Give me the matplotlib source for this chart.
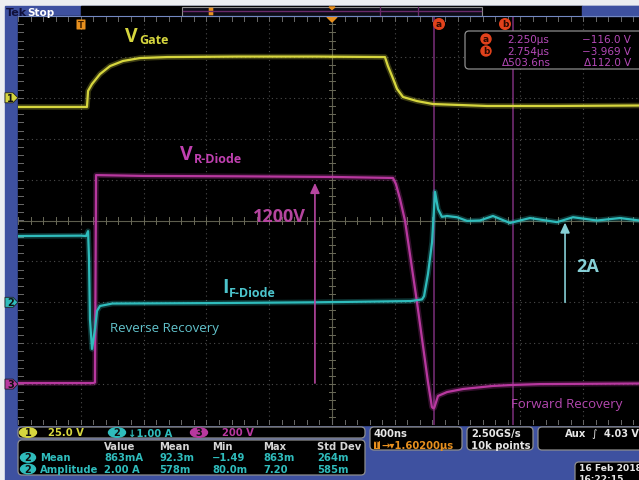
"""
Diode switching capture: gate drive, diode voltage and diode current
drawn as an oscilloscope screen.
"""
import numpy as np
import matplotlib.pyplot as plt
from matplotlib.patches import Rectangle, FancyBboxPatch, Polygon, Circle, Ellipse

W, H = 639, 481

# horizontal / vertical settings
T_DIV = 0.4                      # us per division
CH1_SCALE, CH1_POS = 25.0, 3.0   # V/div, ground position (div)
CH2_SCALE, CH2_POS = 1.0, -2.0   # A/div
CH3_SCALE, CH3_POS = 200.0, -4.0  # V/div

# ch1: gate voltage (us, V)
gate_t = [-0.40, 0.038, 0.045, 0.070, 0.121, 0.185, 0.267, 0.376, 0.548, 1.00, 1.50,
          1.936, 1.955, 1.981, 2.013, 2.051, 2.140, 2.242, 2.586, 3.006, 3.555]
gate_v = [-5.6, -5.6, 4.2, 8.4, 14.5, 19.4, 22.5, 24.3, 24.9, 25.2, 25.2,
          24.9, 19.4, 13.3, 5.4, 0.5, -2.0, -3.8, -5.0, -5.0, -4.7]

# ch2: diode forward current (us, A)
diode_i_t = [-0.40, 0.0, 0.032, 0.045, 0.051, 0.057, 0.070, 0.076, 0.089, 0.102, 0.121, 0.20,
             0.80, 1.50, 2.10, 2.172, 2.185, 2.210, 2.236, 2.255, 2.274, 2.299, 2.331, 2.395,
             2.459, 2.541, 2.624, 2.732, 2.860, 3.032, 3.134, 3.287, 3.433, 3.555]
diode_i = [1.62, 1.63, 1.62, 1.74, 1.06, -0.41, -1.14, -1.00, -0.65, -0.21, -0.09, -0.03,
           -0.02, 0.00, 0.03, 0.07, 0.15, 0.69, 1.47, 2.70, 2.28, 2.09, 2.11, 2.08,
           1.99, 2.00, 2.11, 1.94, 2.06, 1.96, 2.08, 2.00, 2.06, 2.00]

# ch3: diode reverse voltage (us, V)
diode_v_t = [-0.40, 0.076, 0.089, 0.096, 0.40, 1.00, 1.60, 1.987, 2.006, 2.032, 2.064, 2.140,
             2.210, 2.235, 2.243, 2.250, 2.274, 2.331, 2.433, 2.624, 2.754, 2.923, 3.555]
diode_v = [5, 5, 8, 1022, 1018, 1016, 1013, 1008, 978, 905, 798, 401,
           10, -112, -118, -116, -58, -39, -24, -9, -4, 0, 3]

cursor_a, cursor_b = 2.250, 2.754
arrow_v_t, arrow_i_t = 1.490, 3.083

# measurement table
meas_cols = ["Value", "Mean", "Min", "Max", "Std Dev"]
meas_rows = ["Mean", "Amplitude"]
meas_vals = [["863mA", "92.3m", "\u22121.49", "863m", "264m"],
             ["2.00 A", "578m", "80.0m", "7.20", "585m"]]

YELLOW = "#d6d63e"
CYAN = "#2fbcbc"
MAGENTA = "#b8389f"
CURSOR = "#7a2e7a"
ORANGE = "#e8901e"
BLUE = "#3e51a0"
UI = "DejaVu Sans"
LABEL = "Open Sans"


def to_div(vals, scale, pos):
    return pos + np.asarray(vals, dtype=float) / scale


fig = plt.figure(figsize=(W / 100, H / 100), dpi=100)

# frame layer in pixel coordinates
bg = fig.add_axes([0, 0, 1, 1])
bg.set_xlim(0, W)
bg.set_ylim(H, 0)
bg.axis("off")
bg.add_patch(Rectangle((0, 0), W, H, color="#eceef1"))
bg.add_patch(Rectangle((5, 7), W, H, color=BLUE))
bg.add_patch(Rectangle((18, 17), W, 409, color="black"))
bg.add_patch(Rectangle((81, 7), 501, 10, color="black"))

# scope screen
left, right, top, bottom = 18, 639, 17, 426
x0 = -(81 - left) / 62.8 * T_DIV
x1 = x0 + (right - left) / 62.8 * T_DIV
ax = fig.add_axes([left / W, (H - bottom) / H, (right - left) / W, (bottom - top) / H])
ax.set_xlim(x0, x1)
ax.set_ylim(-5, 5)
ax.axis("off")

# graticule
grid_kw = dict(color="#4c4c4c", lw=0.8, linestyle=(0, (1, 3)), zorder=1)
for k in range(1, 10):
    ax.axvline(x0 + k * T_DIV, **grid_kw)
for k in range(-4, 5):
    if k != 0:
        ax.axhline(k, **grid_kw)
tc = x0 + 5 * T_DIV
ax.axvline(tc, color="#5e5e4e", lw=0.8, zorder=1)
ax.axhline(0, color="#5e5e4e", lw=0.8, zorder=1)
for t in np.arange(x0, x1, T_DIV / 5):
    ax.plot([t, t], [-0.08, 0.08], color="#6a6a58", lw=0.7, zorder=1)
    ax.plot([t, t], [4.88, 5.0], color="#6a6a6a", lw=0.7, zorder=1)
    ax.plot([t, t], [-5.0, -4.88], color="#6a6a6a", lw=0.7, zorder=1)
for y in np.arange(-5, 5.01, 0.2):
    ax.plot([tc - 0.02, tc + 0.02], [y, y], color="#6a6a58", lw=0.7, zorder=1)
    ax.plot([x0, x0 + 0.03], [y, y], color="#6a6a6a", lw=0.7, zorder=1)

# cursors
ax.axvline(cursor_a, color=CURSOR, lw=1.1, zorder=2)
ax.axvline(cursor_b, color=CURSOR, lw=1.1, zorder=2)

# traces, with a soft halo for the phosphor look
traces = [
    (gate_t, to_div(gate_v, CH1_SCALE, CH1_POS), YELLOW),
    (diode_v_t, to_div(diode_v, CH3_SCALE, CH3_POS), MAGENTA),
    (diode_i_t, to_div(diode_i, CH2_SCALE, CH2_POS), CYAN),
]
for t, y, c in traces:
    ax.plot(t, y, color=c, lw=4.0, alpha=0.28, zorder=3, solid_joinstyle="round")
    ax.plot(t, y, color=c, lw=1.6, zorder=4, solid_joinstyle="round")

# arrows from ground up to the plateau
v_top = np.interp(arrow_v_t, diode_v_t, diode_v) - 30
ax.annotate("", xy=(arrow_v_t, to_div(v_top, CH3_SCALE, CH3_POS)),
            xytext=(arrow_v_t, to_div(diode_v[0], CH3_SCALE, CH3_POS)),
            arrowprops=dict(arrowstyle="-|>,head_length=0.6,head_width=0.28",
                            color="#b5459f", lw=1.2, shrinkA=0, shrinkB=0), zorder=5)
i_top = np.interp(arrow_i_t, diode_i_t, diode_i) - 0.07
ax.annotate("", xy=(arrow_i_t, to_div(i_top, CH2_SCALE, CH2_POS)),
            xytext=(arrow_i_t, to_div(0, CH2_SCALE, CH2_POS)),
            arrowprops=dict(arrowstyle="-|>,head_length=0.6,head_width=0.28",
                            color="#86cfd6", lw=1.2, shrinkA=0, shrinkB=0), zorder=5)

# overlay for labels and readouts, pixel coordinates
ov = fig.add_axes([0, 0, 1, 1], zorder=3)
ov.set_xlim(0, W)
ov.set_ylim(H, 0)
ov.axis("off")
ov.patch.set_alpha(0)


def txt(s, x, y, color, size=7.5, ha="left", va="center", weight="normal", family=UI):
    ov.text(x, y, s, color=color, fontsize=size, ha=ha, va=va, weight=weight, family=family)


def box(x, y, w, h):
    ov.add_patch(FancyBboxPatch((x, y), w, h, boxstyle="round,pad=0,rounding_size=4",
                                fc="black", ec="#8e8e8e", lw=0.9))


# top status bar
ov.add_patch(Rectangle((182, 8), 300, 9, fc="#0c0c18", ec="#8e8e8e", lw=0.8))
ov.plot([183, 481], [12, 12], color="#6a2a6a", lw=1.0)
for xx in (380, 418):
    ov.plot([xx, xx], [8, 17], color="#6a2a6a", lw=0.9)
ov.add_patch(Rectangle((582, 7), 60, 10, color=BLUE))
ov.add_patch(FancyBboxPatch((209, 9), 4, 7, boxstyle="round,pad=0.3", fc=ORANGE, ec="none"))
ov.add_patch(Polygon([(329, 8), (335, 8), (332, 10.5)], color=ORANGE))
ov.plot([18, 639], [17.2, 17.2], color="#7288c2", lw=0.8)
txt("Tek", 6, 12.5, "#10103a", size=8, weight="bold")
txt("Stop", 27, 12.5, "white", size=7.5, weight="bold")
ov.add_patch(Polygon([(327, 18), (337, 18), (332, 23)], color=ORANGE))

# trigger marker
ov.add_patch(FancyBboxPatch((77, 21), 8, 9, boxstyle="round,pad=0.5", fc=ORANGE, ec="none"))
txt("T", 81, 25.8, "#402000", size=6, ha="center", weight="bold")

# cursor tags
for cx, lab in ((439, "a"), (505, "b")):
    ov.add_patch(Circle((cx, 25), 5.3, color="#e2421c"))
    txt(lab, cx, 24.5, "#2a0800", size=6.5, ha="center", weight="bold")

# cursor readout
box(465, 32, 185, 38)
CUR_TXT = "#b54ab8"
for yy, lab in ((40, "a"), (52, "b")):
    ov.add_patch(Circle((486, yy), 5.0, color="#e2421c"))
    txt(lab, 486, yy - 0.5, "#2a0800", size=6.5, ha="center", weight="bold")
txt("2.250\u00b5s", 507, 40, CUR_TXT)
txt("2.754\u00b5s", 507, 52, CUR_TXT)
txt("\u0394503.6ns", 502, 63, CUR_TXT)
txt("\u2212116.0 V", 631, 40, CUR_TXT, ha="right")
txt("\u22123.969 V", 631, 52, CUR_TXT, ha="right")
txt("\u0394112.0 V", 631, 63, CUR_TXT, ha="right")

# channel ground markers on the left edge
for yy, c, lab in ((CH1_POS, YELLOW, "1"), (CH2_POS, CYAN, "2"), (CH3_POS, MAGENTA, "3")):
    py = 221.5 - yy * 40.9
    ov.add_patch(Polygon([(5, py - 5), (13, py - 5), (18, py), (13, py + 5), (5, py + 5)],
                         fc=c, ec="#202020", lw=0.6))
    txt(lab, 10.5, py, "#101010", size=7, ha="center", weight="bold")

# waveform labels
txt("V", 125, 42, YELLOW, size=14, va="baseline", weight="bold", family=LABEL)
txt("Gate", 139, 44, YELLOW, size=9, va="baseline", weight="bold", family=LABEL)
txt("V", 180, 160, "#c040b0", size=14, va="baseline", weight="bold", family=LABEL)
txt("R-Diode", 194, 163, "#c040b0", size=9, va="baseline", weight="bold", family=LABEL)
txt("I", 222, 293, "#4cc4cc", size=14, va="baseline", weight="bold", family=LABEL)
txt("F-Diode", 229, 297, "#4cc4cc", size=9, va="baseline", weight="bold", family=LABEL)
txt("1200V", 253, 222, "#b5459f", size=13, va="baseline", weight="bold", family=LABEL)
txt("2A", 576, 272, "#86cfd6", size=13, va="baseline", weight="bold", family=LABEL)
txt("Reverse Recovery", 110, 332, "#62c3cc", size=9.5, va="baseline", family=LABEL)
txt("Forward Recovery", 511, 408, "#b548b0", size=9.5, va="baseline", family=LABEL)

# channel scale bar
box(18, 428, 347, 11)
for cx, c, lab, s, sx in ((28, YELLOW, "1", "25.0 V", 48),
                          (117, CYAN, "2", "\u21931.00 A", 128),
                          (199, MAGENTA, "3", "200 V", 222)):
    ov.add_patch(Ellipse((cx, 433.5), 17, 9.5, color=c))
    txt(lab, cx, 433.5, "#101010", size=7, ha="center", weight="bold")
    txt(s, sx, 433.5, c, weight="bold", size=7.2)

# measurement table
box(18, 441, 347, 35)
col_x = [104, 159, 212, 263, 317]
for x, name in zip(col_x, meas_cols):
    txt(name, x, 447, "#d6d6d6", weight="bold", size=7.2)
for r, (name, vals) in enumerate(zip(meas_rows, meas_vals)):
    yy = 458.5 + r * 11.5
    ov.add_patch(Ellipse((28, yy), 15, 9.5, color=CYAN))
    txt("2", 28, yy, "#101010", size=7, ha="center", weight="bold")
    txt(name, 40, yy, CYAN, weight="bold", size=7.2)
    for x, v in zip(col_x, vals):
        txt(v, x, yy, CYAN, weight="bold", size=7.2)

# horizontal, acquisition and trigger readouts
box(370, 428, 92, 23)
txt("400ns", 374, 434, "#e6e6e6", weight="bold", size=7.2)
ov.add_patch(Rectangle((374, 442), 6, 8, fc=ORANGE, ec="none"))
txt("T", 377, 446, "#301800", size=5.5, ha="center", weight="bold")
txt("\u2192\u25be1.60200\u00b5s", 381, 446, ORANGE, weight="bold", size=7.2)
box(467, 428, 66, 23)
txt("2.50GS/s", 471, 434, "#e6e6e6", weight="bold", size=7.2)
txt("10k points", 471, 446, "#e6e6e6", weight="bold", size=7.2)
box(538, 428, 110, 23)
txt("Aux", 565, 434, "#e6e6e6", weight="bold", size=7.2)
txt("\u222b", 591, 434, "#e6e6e6", size=7.5)
txt("4.03 V", 604, 434, "#e6e6e6", weight="bold", size=7.0)
box(575, 463, 80, 25)
txt("16 Feb 2018", 579, 469, "#e6e6e6", weight="bold", size=6.6)
txt("16:22:15", 579, 479.5, "#e6e6e6", weight="bold", size=6.6)

fig.savefig("out.png", dpi=100)
